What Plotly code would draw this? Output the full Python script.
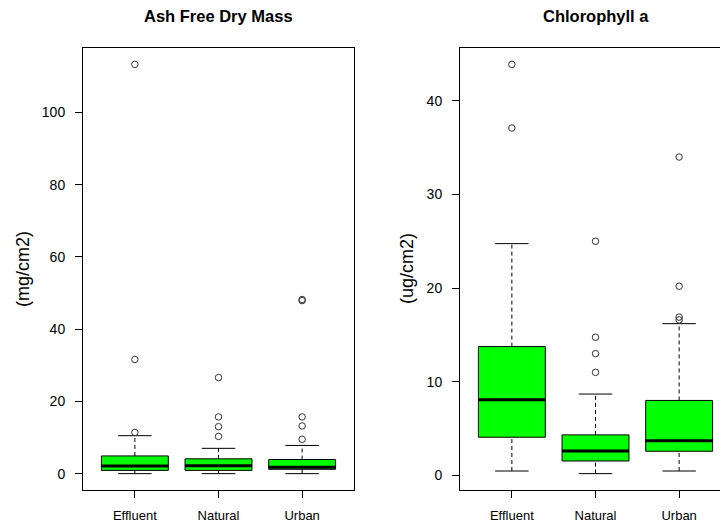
import plotly.graph_objects as go

# Sites (x categories)
sites = ["Effluent", "Natural", "Urban"]
positions = [1, 2, 3]

# Ash free dry mass (mg/cm2): box statistics per site
afdm_lo = [0.0, 0.0, 0.0]
afdm_q1 = [0.9, 0.9, 1.2]
afdm_med = [2.1, 2.2, 1.8]
afdm_q3 = [4.9, 4.1, 3.9]
afdm_hi = [10.5, 7.0, 7.8]
afdm_out = [[11.4, 31.6, 113.3], [10.3, 13.0, 15.7, 26.6], [9.5, 13.2, 15.7, 47.9, 48.2]]
afdm_ticks = [0, 20, 40, 60, 80, 100]

# Chlorophyll a (ug/cm2): box statistics per site
chl_lo = [0.46, 0.18, 0.46]
chl_q1 = [4.07, 1.53, 2.57]
chl_med = [8.07, 2.6, 3.7]
chl_q3 = [13.75, 4.32, 8.0]
chl_hi = [24.75, 8.68, 16.2]
chl_out = [[37.1, 43.9], [11.0, 13.0, 14.75, 25.0], [16.6, 16.9, 20.2, 34.0]]
chl_ticks = [0, 10, 20, 30, 40]

BOX_W = 0.8
STAPLE_W = 0.4
FONT = "Liberation Sans, Arial, sans-serif"

fig = go.Figure()


def add_panel(xa, ya, lo, q1, med, q3, hi, out):
    fig.add_trace(go.Box(
        x=positions, q1=q1, median=med, q3=q3, lowerfence=q1, upperfence=q3,
        width=BOX_W, fillcolor="#00FF00", line=dict(color="black", width=1),
        boxpoints=False, whiskerwidth=0, xaxis=xa, yaxis=ya,
        showlegend=False, hoverinfo="skip"))
    for p, l, a, m, b, h, o in zip(positions, lo, q1, med, q3, hi, out):
        # dashed whiskers
        fig.add_trace(go.Scatter(
            x=[p, p, None, p, p], y=[l, a, None, b, h], mode="lines",
            line=dict(color="black", width=1, dash="4px,3px"),
            xaxis=xa, yaxis=ya, showlegend=False, hoverinfo="skip"))
        # staples
        fig.add_trace(go.Scatter(
            x=[p - STAPLE_W / 2, p + STAPLE_W / 2, None, p - STAPLE_W / 2, p + STAPLE_W / 2],
            y=[l, l, None, h, h], mode="lines",
            line=dict(color="black", width=1),
            xaxis=xa, yaxis=ya, showlegend=False, hoverinfo="skip"))
        # thick median bar
        fig.add_trace(go.Scatter(
            x=[p - BOX_W / 2, p + BOX_W / 2], y=[m, m], mode="lines",
            line=dict(color="black", width=3),
            xaxis=xa, yaxis=ya, showlegend=False, hoverinfo="skip"))
        # outliers
        fig.add_trace(go.Scatter(
            x=[p] * len(o), y=o, mode="markers",
            marker=dict(symbol="circle-open", size=6.5, color="#333333",
                        line=dict(width=1, color="#333333")),
            xaxis=xa, yaxis=ya, showlegend=False, hoverinfo="skip"))


add_panel("x", "y", afdm_lo, afdm_q1, afdm_med, afdm_q3, afdm_hi, afdm_out)
add_panel("x2", "y2", chl_lo, chl_q1, chl_med, chl_q3, chl_hi, chl_out)


def yrange(lo, out):
    vmin = min(lo)
    vmax = max(max(o) for o in out)
    pad = (vmax - vmin) * 0.04
    return [vmin - pad, vmax + pad]


W, H = 720, 526
top_px, bot_px = 48, 490
ydom = [1 - bot_px / H, 1 - top_px / H]
left_dom = [83 / W, 354 / W]
right_dom = [460 / W, 1.0]

axis_common = dict(showgrid=False, zeroline=False, ticks="outside", ticklen=7,
                   tickcolor="black", tickwidth=1, linecolor="black", linewidth=1)
xtick_font = dict(family=FONT, size=13, color="black")
ytick_font = dict(family=FONT, size=14, color="black")

fig.update_layout(
    width=W, height=H, margin=dict(l=0, r=0, t=0, b=0),
    plot_bgcolor="white", paper_bgcolor="white",
    boxmode="overlay",
    xaxis=dict(domain=left_dom, anchor="y", range=[0.38, 3.62],
               tickvals=positions, ticktext=sites, showline=True, mirror=True,
               ticklabelstandoff=6, tickfont=xtick_font, **axis_common),
    yaxis=dict(domain=ydom, anchor="x", range=yrange(afdm_lo, afdm_out),
               tickvals=afdm_ticks, showline=True, mirror=True,
               ticklabelstandoff=7, tickfont=ytick_font, **axis_common),
    xaxis2=dict(domain=right_dom, anchor="y2",
                range=[0.38, 0.38 + (720 - 460) / (271 / 3.24)],
                tickvals=positions, ticktext=sites, showline=True, mirror=True,
                ticklabelstandoff=6, tickfont=xtick_font, **axis_common),
    yaxis2=dict(domain=ydom, anchor="x2", range=yrange(chl_lo, chl_out),
                tickvals=chl_ticks, showline=True, mirror=False,
                ticklabelstandoff=7, tickfont=ytick_font, **axis_common),
)

ymid = (ydom[0] + ydom[1]) / 2
annotations = [
    dict(text="<b>Ash Free Dry Mass</b>", x=(left_dom[0] + left_dom[1]) / 2, y=1 - 16 / H,
         xref="paper", yref="paper", showarrow=False, xanchor="center", yanchor="middle",
         font=dict(family=FONT, size=16.5, color="black")),
    dict(text="<b>Chlorophyll a</b>", x=595.5 / W, y=1 - 16 / H,
         xref="paper", yref="paper", showarrow=False, xanchor="center", yanchor="middle",
         font=dict(family=FONT, size=16.5, color="black")),
    dict(text="(mg/cm2)", x=23 / W, y=ymid, textangle=-90,
         xref="paper", yref="paper", showarrow=False, xanchor="center", yanchor="middle",
         font=dict(family=FONT, size=18, color="black")),
    dict(text="(ug/cm2)", x=407 / W, y=ymid, textangle=-90,
         xref="paper", yref="paper", showarrow=False, xanchor="center", yanchor="middle",
         font=dict(family=FONT, size=18, color="black")),
]
fig.update_layout(annotations=annotations)

fig.write_html("out.html")
